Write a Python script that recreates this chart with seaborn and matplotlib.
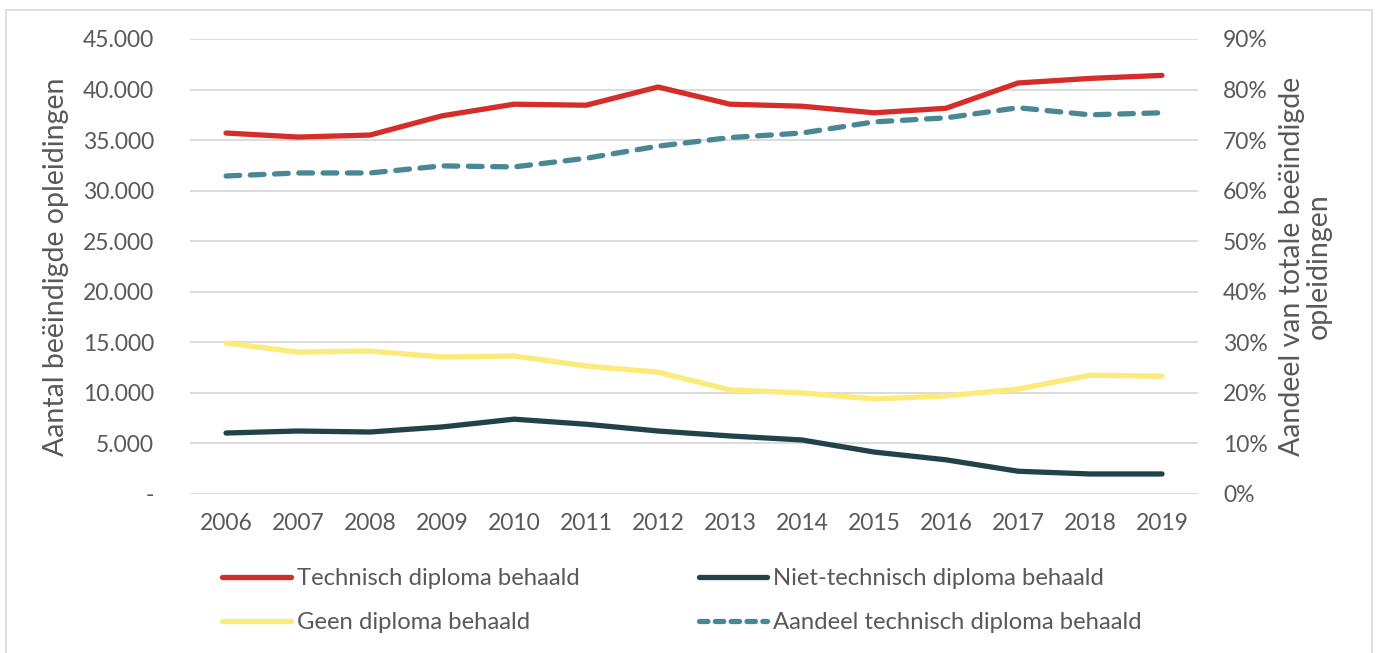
import numpy as np
import pandas as pd
import matplotlib
matplotlib.use("Agg")
import matplotlib.pyplot as plt
import matplotlib.ticker as mticker
from matplotlib.lines import Line2D
from matplotlib.patches import Rectangle
import seaborn as sns

years = list(range(2006, 2020))
technisch = [35700, 35300, 35500, 37400, 38550, 38450, 40250, 38550, 38350, 37700, 38150, 40650, 41100, 41400]
niet_technisch = [6030, 6230, 6130, 6630, 7400, 6900, 6230, 5740, 5340, 4150, 3380, 2250, 1980, 1980]
geen = [14930, 14040, 14140, 13550, 13650, 12660, 12050, 10290, 10000, 9400, 9700, 10380, 11750, 11650]
aandeel = [62.9, 63.5, 63.5, 64.9, 64.7, 66.4, 68.8, 70.5, 71.4, 73.6, 74.4, 76.4, 75.0, 75.4]

labels = ["Technisch diploma behaald", "Niet-technisch diploma behaald",
          "Geen diploma behaald", "Aandeel technisch diploma behaald"]
colors = ["#D42D2A", "#22424A", "#FCEB7A", "#4A8795"]

TEXT = "#595959"
sns.set_theme(style="white")
plt.rcParams["font.family"] = ["Lato", "DejaVu Sans"]
plt.rcParams["text.color"] = TEXT

fig = plt.figure(figsize=(13.78, 6.53), dpi=100)
ax = fig.add_axes([0.1379, 0.2435, 0.7315, 0.6968])
ax2 = ax.twinx()

lw = 3.8
sns.lineplot(x=years, y=technisch, ax=ax, color=colors[0], lw=lw,
             solid_capstyle="round")
sns.lineplot(x=years, y=niet_technisch, ax=ax, color=colors[1], lw=lw,
             solid_capstyle="round")
sns.lineplot(x=years, y=geen, ax=ax, color=colors[2], lw=lw,
             solid_capstyle="round")
sns.lineplot(x=years, y=aandeel, ax=ax2, color=colors[3], lw=lw,
             dashes=False, linestyle=(0, (2.6, 2.0)), dash_capstyle="round")

ax.set_ylim(0, 45000)
ax.set_yticks(np.arange(0, 45001, 5000))
ax.yaxis.set_major_formatter(mticker.FuncFormatter(
    lambda v, p: "-" if v == 0 else f"{int(v):,}".replace(",", ".")))
ax2.set_ylim(0, 90)
ax2.set_yticks(np.arange(0, 91, 10))
ax2.yaxis.set_major_formatter(mticker.FuncFormatter(lambda v, p: f"{int(v)}%"))

ax.set_xlim(2005.5, 2019.5)
ax.set_xticks(years)
ax.set_xticklabels([str(y) for y in years])

ax.grid(axis="y", color="#D9D9D9", lw=1.3)
ax.set_axisbelow(True)
for a in (ax, ax2):
    for s in a.spines.values():
        s.set_visible(False)
    a.tick_params(length=0, labelsize=16.5, colors=TEXT)
ax.tick_params(axis="x", pad=14)
ax.tick_params(axis="y", pad=26)
ax2.tick_params(axis="y", pad=18)

ax.set_ylabel("Aantal beëindigde opleidingen", fontsize=20.5, color=TEXT, labelpad=10)
ax2.set_ylabel("Aandeel van totale beëindigde\nopleidingen", fontsize=20.5,
               color=TEXT, labelpad=8, linespacing=1.05)

handles = [
    Line2D([], [], color=colors[0], lw=lw, solid_capstyle="round"),
    Line2D([], [], color=colors[2], lw=lw, solid_capstyle="round"),
    Line2D([], [], color=colors[1], lw=lw, solid_capstyle="round"),
    Line2D([], [], color=colors[3], lw=lw, linestyle=(0, (1.6, 1.4)),
           dash_capstyle="round"),
]
leg_labels = [labels[0], labels[2], labels[1], labels[3]]
fig.legend(handles, leg_labels, ncol=2, loc="upper left",
           bbox_to_anchor=(0.1545, 0.145), frameon=False, fontsize=17.2,
           handlelength=2.85, handletextpad=0.25, columnspacing=5.0,
           labelspacing=0.98, borderaxespad=0)

fig.patches.append(Rectangle((0.004, -0.05), 0.992, 1.035, transform=fig.transFigure,
                             fill=False, edgecolor="#D9D9D9", lw=1.2))

fig.savefig("out.png", dpi=100)
